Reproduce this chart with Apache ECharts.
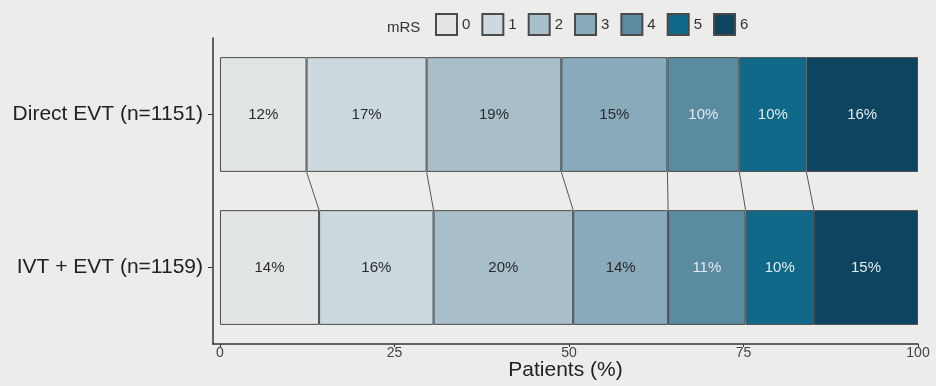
<!DOCTYPE html>
<html>
<head>
<meta charset="utf-8">
<script src="https://cdn.jsdelivr.net/npm/echarts@6/dist/echarts.min.js"></script>
<style>
html,body{margin:0;padding:0;background:#ececea;}
#chart{width:936px;height:386px;}
</style>
</head>
<body>
<div id="chart"></div>
<script>
const categories = ['Direct EVT (n=1151)', 'IVT + EVT (n=1159)'];
const mrsLevels = ['0', '1', '2', '3', '4', '5', '6'];
// percentage per mRS level: [Direct EVT, IVT + EVT]
const mrs0 = [12.4, 14.2];
const mrs1 = [17.2, 16.4];
const mrs2 = [19.3, 20.0];
const mrs3 = [15.2, 13.6];
const mrs4 = [10.3, 11.1];
const mrs5 = [9.6, 9.8];
const mrs6 = [16.0, 14.9];
const xTicks = [0, 25, 50, 75, 100];

const seriesValues = [mrs0, mrs1, mrs2, mrs3, mrs4, mrs5, mrs6];
const colors = ['#e2e5e6', '#ccd9de', '#a8bfca', '#88aabb', '#5b8ba1', '#11698a', '#0d4560'];
const labelColors = ['#2a2a2a', '#2a2a2a', '#2a2a2a', '#2a2a2a', '#e4eaed', '#e4eaed', '#e4eaed'];
const FONT = '"Liberation Sans", Arial, sans-serif';

// cumulative boundaries between segments
const connectors = [];
let cumA = 0, cumB = 0;
for (let i = 0; i < seriesValues.length - 1; i++) {
  cumA += seriesValues[i][0];
  cumB += seriesValues[i][1];
  connectors.push([cumA, 0, cumB]);
}

const barSeries = mrsLevels.map((lvl, i) => ({
  name: lvl,
  type: 'bar',
  stack: 'total',
  barWidth: '75%',
  data: seriesValues[i],
  itemStyle: { color: colors[i], borderColor: '#4a4a4a', borderWidth: 1 },
  label: {
    show: true,
    position: 'inside',
    formatter: p => Math.round(p.value) + '%',
    color: labelColors[i],
    fontFamily: FONT,
    fontSize: 15
  },
  emphasis: { disabled: true }
}));

const connectorSeries = {
  type: 'custom',
  name: 'connectors',
  data: connectors,
  encode: { x: 0, y: 1 },
  silent: true,
  z: 1,
  renderItem: function (params, api) {
    const band = api.size([0, 1])[1];
    const half = band * 0.75 / 2;
    const p1 = api.coord([api.value(0), 0]);
    const p2 = api.coord([api.value(2), 1]);
    return {
      type: 'line',
      shape: { x1: p1[0], y1: p1[1] + half, x2: p2[0], y2: p2[1] - half },
      style: { stroke: '#555', lineWidth: 1 }
    };
  }
};

const chart = echarts.init(document.getElementById('chart'));
chart.setOption({
  backgroundColor: '#ececea',
  animation: false,
  title: {
    text: 'mRS',
    left: 382,
    top: 15,
    textStyle: { fontFamily: FONT, fontSize: 15, fontWeight: 'normal', color: '#333' }
  },
  legend: {
    data: mrsLevels,
    left: 430,
    top: 8,
    itemWidth: 21,
    itemHeight: 21,
    itemGap: 11,
    icon: 'rect',
    textStyle: { fontFamily: FONT, fontSize: 15, color: '#333' },
    selectedMode: false
  },
  grid: { left: 213, right: 18, top: 38, bottom: 42, containLabel: false, outerBoundsMode: 'none' },
  xAxis: {
    type: 'value',
    min: -1,
    max: 100,
    name: 'Patients (%)',
    nameLocation: 'middle',
    nameGap: 16,
    nameMoveOverlap: false,
    nameTextStyle: { fontFamily: FONT, fontSize: 21, color: '#222', verticalAlign: 'top' },
    axisLine: { show: true, onZero: false, lineStyle: { color: '#333', width: 1.5 } },
    axisTick: { show: true, length: 3, lineStyle: { color: '#333' }, customValues: xTicks },
    axisLabel: {
      fontFamily: FONT, fontSize: 14, color: '#444', margin: 2,
      customValues: xTicks
    },
    splitLine: { show: false }
  },
  yAxis: {
    type: 'category',
    data: categories,
    inverse: true,
    axisLine: { show: true, onZero: false, lineStyle: { color: '#333', width: 1.5 } },
    axisTick: { show: true, alignWithLabel: true, length: 5, lineStyle: { color: '#333' } },
    axisLabel: { fontFamily: FONT, fontSize: 21, color: '#222', margin: 10 }
  },
  series: [connectorSeries].concat(barSeries)
});
</script>
</body>
</html>
